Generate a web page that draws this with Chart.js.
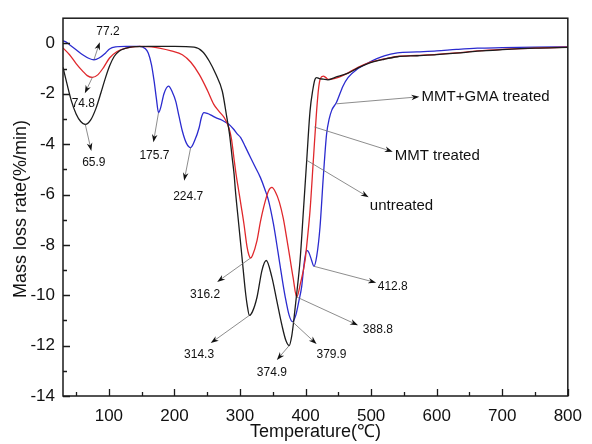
<!DOCTYPE html>
<html><head><meta charset="utf-8">
<script src="https://cdn.jsdelivr.net/npm/chart.js@4/dist/chart.umd.min.js"></script>
<style>html,body{margin:0;padding:0;background:#fff;}canvas{display:block;}</style>
</head><body>
<canvas id="c" width="592" height="444"></canvas>
<script>
// ---- Data ----
const xTicks = [100, 200, 300, 400, 500, 600, 700, 800];
const xMinorTicks = [50, 150, 250, 350, 450, 550, 650, 750];
const yTicks = [0, -2, -4, -6, -8, -10, -12, -14];
const yMinorTicks = [-1, -3, -5, -7, -9, -11, -13];

const untreatedTemp = [30,36,43,50,57,64,72,80,88,95,101,108,116,125,140,160,200,230,243,253,263,273,280,284,288,291,293,298,303,308,311,314.3,319,326,333.5,340,348.6,356,364,370,374.9,379,382,386.5,391.6,396.7,401.7,406.8,411,414.4,417,421,427,434,445,465,480,495,520,540,570,600,630,662,700,750,800];
const untreatedRate = [-0.95,-1.6,-2.3,-2.8,-3.1,-3.22,-3.05,-2.6,-1.95,-1.35,-0.9,-0.52,-0.3,-0.2,-0.13,-0.12,-0.12,-0.15,-0.33,-0.7,-1.22,-1.9,-2.96,-3.6,-4.53,-5.2,-5.85,-7.17,-8.48,-9.8,-10.4,-10.8,-10.65,-10.07,-9.01,-8.62,-9.28,-10.2,-11.2,-11.8,-12.0,-11.6,-11.0,-9.93,-8.62,-6.64,-4.66,-2.69,-1.85,-1.42,-1.36,-1.4,-1.42,-1.45,-1.35,-1.18,-0.97,-0.8,-0.63,-0.53,-0.49,-0.45,-0.39,-0.31,-0.25,-0.19,-0.16];

const mmtTemp = [30,40,50,60,67,74.8,83,92,101,112,126,147,165,177,195,212,225,238,250,260,268,276,283,287,290.6,294,298,302,306,310.8,313.5,316.2,319,325.9,331,336,343.6,348.6,354,360,366,371,376,381,386.5,392,399.2,403,406.8,411.8,416.8,420,422.5,427,431,434.5,440,450,465,480,495,520,540,570,600,630,662,700,750,800];
const mmtRate = [-0.18,-0.45,-0.8,-1.1,-1.28,-1.35,-1.25,-0.95,-0.58,-0.33,-0.19,-0.12,-0.14,-0.19,-0.3,-0.45,-0.75,-1.24,-1.85,-2.42,-2.7,-2.95,-3.35,-3.8,-4.53,-5.2,-5.85,-6.5,-7.17,-8.09,-8.4,-8.52,-8.42,-7.83,-7.1,-6.51,-5.85,-5.72,-5.9,-6.3,-6.95,-7.7,-8.5,-9.3,-10.07,-9.55,-8.62,-7.7,-6.64,-4.66,-2.69,-1.75,-1.4,-1.3,-1.36,-1.43,-1.42,-1.35,-1.17,-0.95,-0.78,-0.62,-0.52,-0.48,-0.44,-0.38,-0.3,-0.24,-0.19,-0.15];

const gmaTemp = [30,35,40,50,60,70,77.2,85,95,101,110,126,147,155,160,165,169,172.5,175.7,179,184,191,197,202,207,212,218,224.7,231,237.6,241,245,250,256,263,270,276,283,290,296,301,308,316,323,331,338,343.6,351,358,364,369,375,379.9,385,390,394,398,401.7,405,409,412.8,417,422,427,432,436,440,447,457,465,480,495,520,540,570,600,630,662,700,750,800];
const gmaRate = [0.1,0.05,-0.05,-0.25,-0.45,-0.6,-0.65,-0.58,-0.38,-0.22,-0.14,-0.12,-0.12,-0.2,-0.38,-0.85,-1.5,-2.2,-2.75,-2.55,-2.0,-1.7,-1.95,-2.3,-2.9,-3.48,-3.95,-4.14,-3.85,-3.35,-2.95,-2.75,-2.78,-2.85,-2.95,-3.02,-3.1,-3.21,-3.4,-3.6,-3.74,-4.1,-4.53,-4.9,-5.32,-5.8,-6.25,-7.17,-8.3,-9.3,-10.07,-10.8,-11.05,-10.8,-10.2,-9.67,-8.7,-8.22,-8.3,-8.6,-8.85,-8.45,-7.3,-5.32,-3.61,-3.0,-2.65,-2.35,-1.7,-1.35,-1.0,-0.78,-0.5,-0.38,-0.34,-0.3,-0.24,-0.19,-0.17,-0.15,-0.14];

// Annotations: text, arrow tail (on curve), arrow head, label anchor (all in data units)
const annotationText = ['77.2','74.8','65.9','175.7','224.7','316.2','314.3','374.9','379.9','388.8','412.8','MMT+GMA treated','MMT treated','untreated'];
const annotationTail = [[77.2,-0.65],[74.8,-1.35],[64,-3.22],[175.7,-2.75],[224.7,-4.14],[316.2,-8.52],[314.3,-10.8],[374.9,-12.0],[379.9,-11.05],[386.5,-10.07],[412.8,-8.85],[447,-2.4],[413.5,-3.32],[401.7,-4.64]];
const annotationHead = [[86.1,0.05],[63.3,-1.98],[73.2,-4.27],[167.9,-3.93],[214.8,-5.45],[265.2,-9.47],[255.3,-11.9],[356.2,-12.57],[416.8,-11.94],[480,-11.19],[507.7,-9.5],[573.5,-2.12],[533,-4.3],[496.2,-6.11]];
const annotationLabel = [[98.6,0.45],[61,-2.39],[77,-4.74],[169.4,-4.47],[220.9,-6.09],[246.7,-9.96],[237.6,-12.37],[348.6,-13.07],[439.5,-12.37],[510.3,-11.36],[533,-9.67],[577,-2.12],[536,-4.47],[498,-6.44]];

const FONT = '"Liberation Sans", Arial, Helvetica, sans-serif';
const toPts = (xs, ys) => xs.map((t, i) => ({x: t, y: ys[i]}));

const overlay = {
  id: 'overlay',
  afterDraw(chart) {
    const {ctx, chartArea: a, scales: {x, y}} = chart;
    ctx.save();
    // frame
    ctx.strokeStyle = '#1a1a1a';
    ctx.lineWidth = 1.5;
    ctx.strokeRect(a.left, a.top, a.right - a.left, a.bottom - a.top);
    // inward ticks
    ctx.lineWidth = 1.3;
    ctx.beginPath();
    xTicks.forEach(v => { const p = Math.round(x.getPixelForValue(v)) + 0.5; ctx.moveTo(p, a.bottom); ctx.lineTo(p, a.bottom - 7); });
    xMinorTicks.forEach(v => { const p = Math.round(x.getPixelForValue(v)) + 0.5; ctx.moveTo(p, a.bottom); ctx.lineTo(p, a.bottom - 4); });
    yTicks.forEach(v => { const p = Math.round(y.getPixelForValue(v)) + 0.5; ctx.moveTo(a.left, p); ctx.lineTo(a.left + 7, p); });
    yMinorTicks.forEach(v => { const p = Math.round(y.getPixelForValue(v)) + 0.5; ctx.moveTo(a.left, p); ctx.lineTo(a.left + 4, p); });
    ctx.stroke();

    // annotation arrows
    annotationText.forEach((txt, i) => {
      const tx = x.getPixelForValue(annotationTail[i][0]), ty = y.getPixelForValue(annotationTail[i][1]);
      const hx = x.getPixelForValue(annotationHead[i][0]), hy = y.getPixelForValue(annotationHead[i][1]);
      const ang = Math.atan2(hy - ty, hx - tx);
      const L = 8, W = 2.8;
      ctx.strokeStyle = '#707070';
      ctx.lineWidth = 0.8;
      ctx.beginPath();
      ctx.moveTo(tx, ty);
      ctx.lineTo(hx - Math.cos(ang) * L * 0.6, hy - Math.sin(ang) * L * 0.6);
      ctx.stroke();
      ctx.fillStyle = '#111';
      ctx.beginPath();
      ctx.moveTo(hx, hy);
      ctx.lineTo(hx - Math.cos(ang) * L - Math.sin(ang) * W, hy - Math.sin(ang) * L + Math.cos(ang) * W);
      ctx.lineTo(hx - Math.cos(ang) * L * 0.7, hy - Math.sin(ang) * L * 0.7);
      ctx.lineTo(hx - Math.cos(ang) * L + Math.sin(ang) * W, hy - Math.sin(ang) * L - Math.cos(ang) * W);
      ctx.closePath();
      ctx.fill();
      const lx = x.getPixelForValue(annotationLabel[i][0]), ly = y.getPixelForValue(annotationLabel[i][1]);
      const isName = i >= 11;
      ctx.font = (isName ? '15px ' : '12px ') + FONT;
      ctx.textAlign = isName ? 'left' : 'center';
      ctx.textBaseline = 'middle';
      ctx.fillStyle = '#111';
      ctx.fillText(txt, lx, ly);
    });

    // axis titles
    ctx.fillStyle = '#111';
    ctx.font = '18px ' + FONT;
    ctx.textAlign = 'center';
    ctx.textBaseline = 'middle';
    ctx.fillText('Temperature(℃)', (a.left + a.right) / 2, 432);
    ctx.save();
    ctx.translate(21, (a.top + a.bottom) / 2 + 2);
    ctx.rotate(-Math.PI / 2);
    ctx.fillText('Mass loss rate(%/min)', 0, 0);
    ctx.restore();
    ctx.restore();
  }
};

const lineDs = (label, pts, color) => ({
  label, data: pts, borderColor: color, borderWidth: 1.3, pointRadius: 0,
  fill: false, cubicInterpolationMode: 'monotone'
});

new Chart(document.getElementById('c'), {
  type: 'line',
  data: {
    datasets: [
      lineDs('untreated', toPts(untreatedTemp, untreatedRate), '#1c1c1c'),
      lineDs('MMT treated', toPts(mmtTemp, mmtRate), '#e0282c'),
      lineDs('MMT+GMA treated', toPts(gmaTemp, gmaRate), '#2b2bcf')
    ]
  },
  options: {
    responsive: false,
    animation: false,
    events: [],
    layout: {padding: {top: 15, right: 19, left: 0, bottom: 0}},
    plugins: {legend: {display: false}, tooltip: {enabled: false}},
    scales: {
      x: {
        type: 'linear', min: 30, max: 800,
        afterBuildTicks: s => { s.ticks = xTicks.map(v => ({value: v})); },
        afterFit: s => { s.height = 48; },
        grid: {display: false, drawTicks: false},
        border: {display: false},
        ticks: {padding: 10, color: '#111', font: {size: 17, family: FONT}, maxRotation: 0, autoSkip: false}
      },
      y: {
        type: 'linear', min: -14, max: 1,
        afterBuildTicks: s => { s.ticks = yTicks.map(v => ({value: v})); },
        afterFit: s => { s.width = 63; },
        grid: {display: false, drawTicks: false},
        border: {display: false},
        ticks: {padding: 8, color: '#111', font: {size: 17, family: FONT}, autoSkip: false}
      }
    }
  },
  plugins: [overlay]
});
</script>
</body></html>
